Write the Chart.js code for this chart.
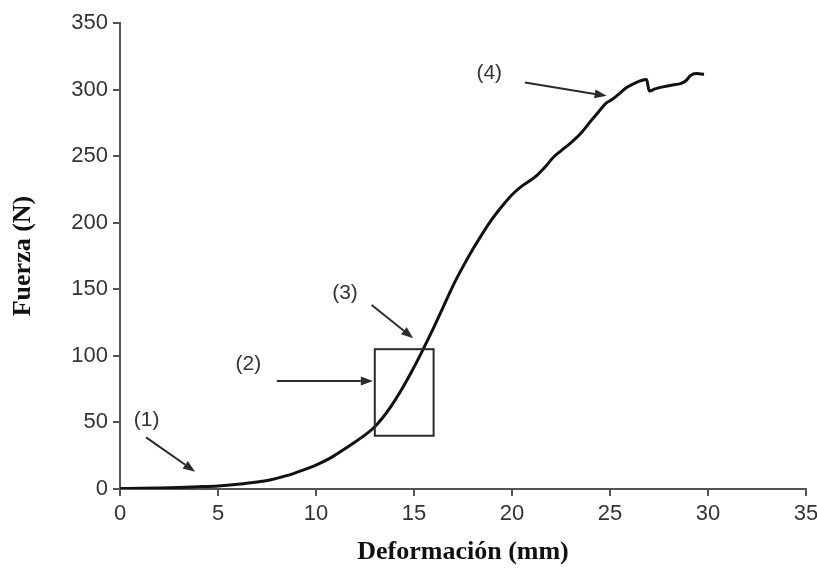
<!DOCTYPE html>
<html>
<head>
<meta charset="utf-8">
<title>Fuerza vs Deformación</title>
<script src="https://cdn.jsdelivr.net/npm/chart.js@4/dist/chart.umd.min.js"></script>
<style>
  html, body { margin: 0; padding: 0; background: #fff; }
  #wrap { width: 817px; height: 571px; }
</style>
</head>
<body>
<div id="wrap"><canvas id="curva"></canvas></div>
<script>
// ensayo de compresión: deformación (mm) y fuerza (N)
const deformacion = [0, 1, 2, 3, 4, 5, 6, 7, 7.65, 8.5, 9.35, 10, 10.7, 11.3, 11.9, 12.4, 12.92, 13.4, 13.8, 14.3, 14.8, 15.3, 15.6, 16.0, 16.5, 17.0, 17.5, 18.0, 18.5, 19.0, 19.5, 20.0, 20.5, 21.0, 21.3, 21.7, 22.1, 22.5, 23.0, 23.5, 24.0, 24.4, 24.8, 25.1, 25.4, 25.85, 26.3, 26.6, 26.87, 27.0, 27.3, 27.7, 28.2, 28.6, 28.9, 29.1, 29.4, 29.8];
const fuerza = [0.3, 0.5, 0.8, 1.2, 1.7, 2.3, 3.5, 5.2, 6.8, 10, 14.3, 18, 23, 28.5, 34.3, 39.5, 45.6, 53.5, 61.5, 73, 86, 100, 109, 121, 137, 153, 167, 180, 192, 203, 212.5, 221, 227.5, 232.5, 236, 242, 249, 254, 260, 267, 276, 283, 289.8, 292.5, 296, 301.5, 305, 306.8, 307.5, 299, 300.5, 302, 303.5, 304.5, 307, 310.5, 312, 311.5];

const xTicks = [0, 5, 10, 15, 20, 25, 30, 35];
const yTicks = [0, 50, 100, 150, 200, 250, 300, 350];

// zonas marcadas sobre la curva (en unidades de los ejes)
const zona = { x0: 13, x1: 16, y0: 40, y1: 105 };
const marcas = [
  { text: '(1)', at: [1.36, 51.8], from: [1.33, 38.8], to: [3.83, 13] },
  { text: '(2)', at: [6.55, 93.5], from: [8.0, 81.1], to: [12.9, 81.1] },
  { text: '(3)', at: [11.48, 147], from: [12.84, 138.2], to: [14.96, 113.2] },
  { text: '(4)', at: [18.84, 312.3], from: [20.66, 305.3], to: [24.83, 295.3] }
];

Chart.defaults.font.family = "'Liberation Sans', Arial, sans-serif";
Chart.defaults.color = '#333';

function flecha(ctx, x1, y1, x2, y2) {
  const ang = Math.atan2(y2 - y1, x2 - x1);
  const len = 12, half = 4.5;
  const bx = x2 - len * Math.cos(ang), by = y2 - len * Math.sin(ang);
  ctx.beginPath();
  ctx.moveTo(x1, y1);
  ctx.lineTo(bx, by);
  ctx.stroke();
  ctx.beginPath();
  ctx.moveTo(x2, y2);
  ctx.lineTo(bx + half * Math.sin(ang), by - half * Math.cos(ang));
  ctx.lineTo(bx - half * Math.sin(ang), by + half * Math.cos(ang));
  ctx.closePath();
  ctx.fill();
}

const anotaciones = {
  id: 'anotaciones',
  afterDatasetsDraw(chart) {
    const { ctx, scales: { x, y } } = chart;
    ctx.save();
    ctx.strokeStyle = '#2b2b2b';
    ctx.fillStyle = '#2b2b2b';
    ctx.lineWidth = 2;
    const l = x.getPixelForValue(zona.x0), r = x.getPixelForValue(zona.x1);
    const t = y.getPixelForValue(zona.y1), b = y.getPixelForValue(zona.y0);
    ctx.strokeRect(l, t, r - l, b - t);

    ctx.font = "21px 'Liberation Sans', Arial, sans-serif";
    ctx.textAlign = 'center';
    ctx.textBaseline = 'middle';
    marcas.forEach(m => {
      ctx.fillStyle = '#2b2b2b';
      flecha(ctx,
        x.getPixelForValue(m.from[0]), y.getPixelForValue(m.from[1]),
        x.getPixelForValue(m.to[0]), y.getPixelForValue(m.to[1]));
      ctx.fillStyle = '#333';
      ctx.fillText(m.text, x.getPixelForValue(m.at[0]), y.getPixelForValue(m.at[1]));
    });
    ctx.restore();
  }
};

// tamaño fijo de los ejes para que el área de trazado quede en su sitio
function fijar(size) {
  return function (scale) {
    if (scale.isHorizontal()) scale.height = size; else scale.width = size;
    scale.paddingLeft = scale.paddingRight = scale.paddingTop = scale.paddingBottom = 0;
  };
}

new Chart(document.getElementById('curva'), {
  type: 'line',
  data: {
    datasets: [{
      data: deformacion.map((d, i) => ({ x: d, y: fuerza[i] })),
      borderColor: '#111',
      borderWidth: 3,
      pointRadius: 0,
      cubicInterpolationMode: 'monotone',
      fill: false
    }]
  },
  options: {
    responsive: true,
    maintainAspectRatio: false,
    animation: false,
    layout: { padding: { top: 23, right: 11, left: 0, bottom: 0 } },
    plugins: { legend: { display: false }, tooltip: { enabled: false } },
    scales: {
      x: {
        type: 'linear',
        min: 0, max: 35,
        afterFit: fijar(82),
        afterBuildTicks: s => { s.ticks = xTicks.map(v => ({ value: v })); },
        grid: { drawOnChartArea: false, color: '#555', lineWidth: 2, tickLength: 7 },
        border: { color: '#555', width: 2 },
        ticks: { font: { size: 22 }, color: '#333', padding: 5, maxRotation: 0 },
        title: {
          display: true,
          text: 'Deformación (mm)',
          color: '#111',
          font: { family: "'Liberation Serif', 'Times New Roman', serif", size: 26, weight: 'bold' },
          padding: { top: 0, bottom: 3 }
        }
      },
      y: {
        min: 0, max: 350,
        afterFit: fijar(120),
        afterBuildTicks: s => { s.ticks = yTicks.map(v => ({ value: v })); },
        grid: { drawOnChartArea: false, color: '#555', lineWidth: 2, tickLength: 7 },
        border: { color: '#555', width: 2 },
        ticks: { font: { size: 22 }, color: '#333', padding: 5 },
        title: {
          display: true,
          text: 'Fuerza (N)',
          color: '#111',
          font: { family: "'Liberation Serif', 'Times New Roman', serif", size: 26, weight: 'bold' },
          padding: { top: 8, bottom: 0 }
        }
      }
    }
  },
  plugins: [anotaciones]
});
</script>
</body>
</html>
